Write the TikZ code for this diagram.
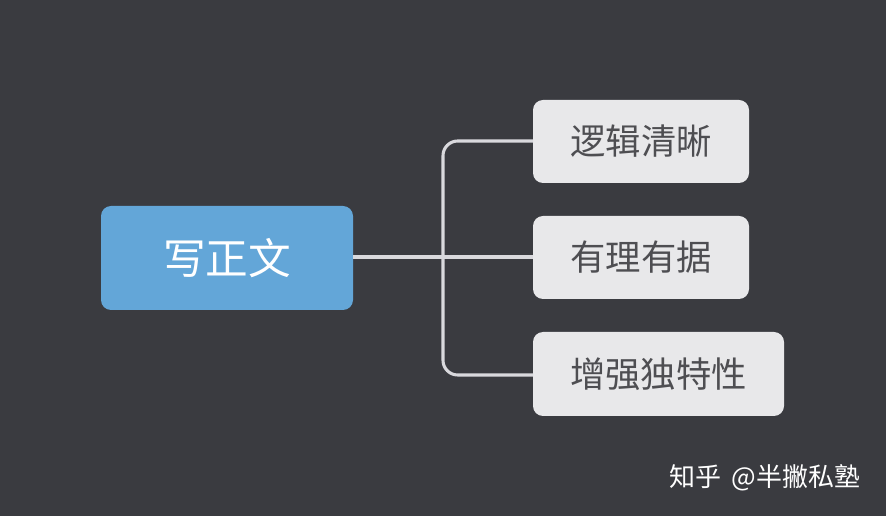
\documentclass[tikz,border=0pt]{standalone}
\usepackage{fontspec}
\setmainfont{Noto Sans CJK SC}
\definecolor{bg}{HTML}{3A3B40}
\definecolor{rootblue}{HTML}{63A6D8}
\definecolor{childbg}{HTML}{E8E8EA}
\definecolor{childtxt}{HTML}{4E4E52}
\definecolor{linec}{HTML}{D9D9DD}
\begin{document}
\begin{tikzpicture}[x=0.75pt,y=-0.75pt,
  rootbox/.style={fill=rootblue,rounded corners=7.5pt},
  childbox/.style={fill=childbg,rounded corners=7.5pt},
  roottext/.style={text=white,font=\fontsize{32}{38}\selectfont,inner sep=0pt},
  childtext/.style={text=childtxt,font=\fontsize{26.5}{32}\selectfont,inner sep=0pt},
  conn/.style={draw=linec,line width=2.3pt,rounded corners=11pt}]
\fill[bg] (0,0) rectangle (886,516);
\useasboundingbox (0,0) rectangle (886,516);
\path[rootbox] (101,206) rectangle (353,310);
\node[roottext] (root) at (227,258) {写正文};
\coordinate (rootE) at (353,257);
\path[childbox] (533,100) rectangle (749,183);
\node[childtext] (c1) at (641,141.5) {逻辑清晰};
\path[childbox] (533,216) rectangle (749,299);
\node[childtext] (c2) at (641,257.5) {有理有据};
\path[childbox] (533,332) rectangle (784,416);
\node[childtext] (c3) at (658.5,374) {增强独特性};
\coordinate (c1W) at (533,141);
\coordinate (c2W) at (533,257);
\coordinate (c3W) at (533,375);
\draw[conn] (c1W) -- (443,141) -- (443,375) -- (c3W);
\draw[conn,rounded corners=0pt] (rootE) -- (c2W);
\node[text=white,font=\fontsize{19.5}{24}\selectfont,anchor=west,inner sep=0pt] (wm) at (669,478) {知乎\hspace{8pt}@半撇私塾};
\end{tikzpicture}
\end{document}
